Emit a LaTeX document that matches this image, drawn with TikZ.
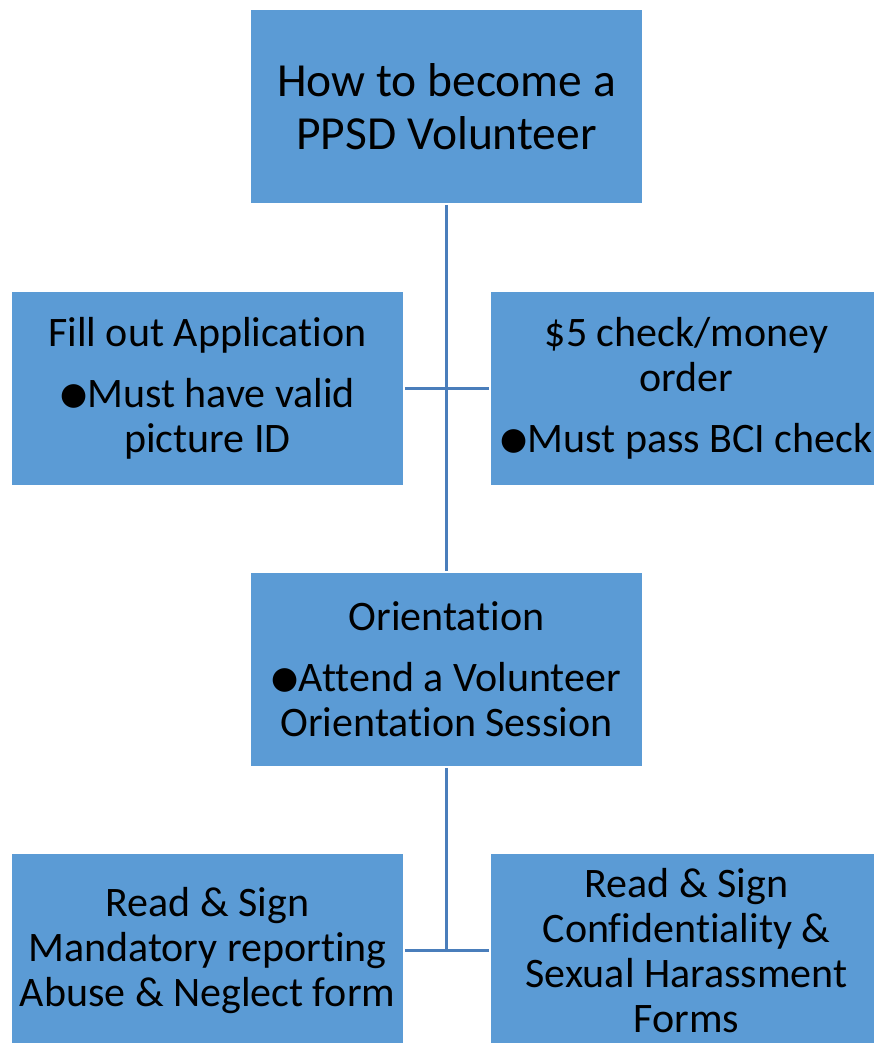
\documentclass[tikz,border=0pt]{standalone}
\usepackage{fontspec}
\setmainfont{Carlito}[Ligatures={NoCommon}]
\newfontfamily\dotfont{DejaVu Sans}
\newcommand{\dotitem}{\raisebox{3pt}{\dotfont\fontsize{31}{31}\selectfont ●}}
\definecolor{boxblue}{HTML}{5B9BD5}
\definecolor{lineblue}{HTML}{4A7EBB}
\tikzset{
	stepbox/.style={draw=white, line width=1.5pt, fill=boxblue, minimum width=393pt, minimum height=195pt, inner sep=0pt, align=center, font=\fontsize{42}{45}\selectfont},
	link/.style={draw=lineblue, line width=3pt}
}
\begin{document}
\begin{tikzpicture}[x=1pt, y=-1pt]
			\useasboundingbox (0,0) rectangle (874,1043);
			\fill[white] (0,0) rectangle (874,1043);
			\clip (0,0) rectangle (874,1043);

			\node[stepbox, font=\fontsize{47.5}{53}\selectfont] (top) at (446.5,106.5) {How to become a\\PPSD Volunteer};
			\node[stepbox] (appl) at (207.5,388.5) {Fill out Application\\[16pt]\dotitem Must have valid\\picture ID};
			\node[stepbox] (fee) at (686.5,388.5) {\$5 check/money\\order\\[16pt]\dotitem Must pass BCI check};
			\node[stepbox] (orient) at (446.5,669.5) {Orientation\\[16pt]\dotitem Attend a Volunteer\\Orientation Session};
			\node[stepbox] (report) at (207.5,950.5) {Read \& Sign\\Mandatory reporting\\Abuse \& Neglect form};
			\node[stepbox] (confid) at (686.5,950.5) {Read \& Sign\\Confidentiality \&\\Sexual Harassment\\Forms};

			\draw[link] (top.south) -- (orient.north);
			\draw[link] (appl.east) -- (fee.west);
			\draw[link] (orient.south) -- (orient.south |- report.east);
			\draw[link] (report.east) -- (confid.west);
		\end{tikzpicture}
\end{document}
